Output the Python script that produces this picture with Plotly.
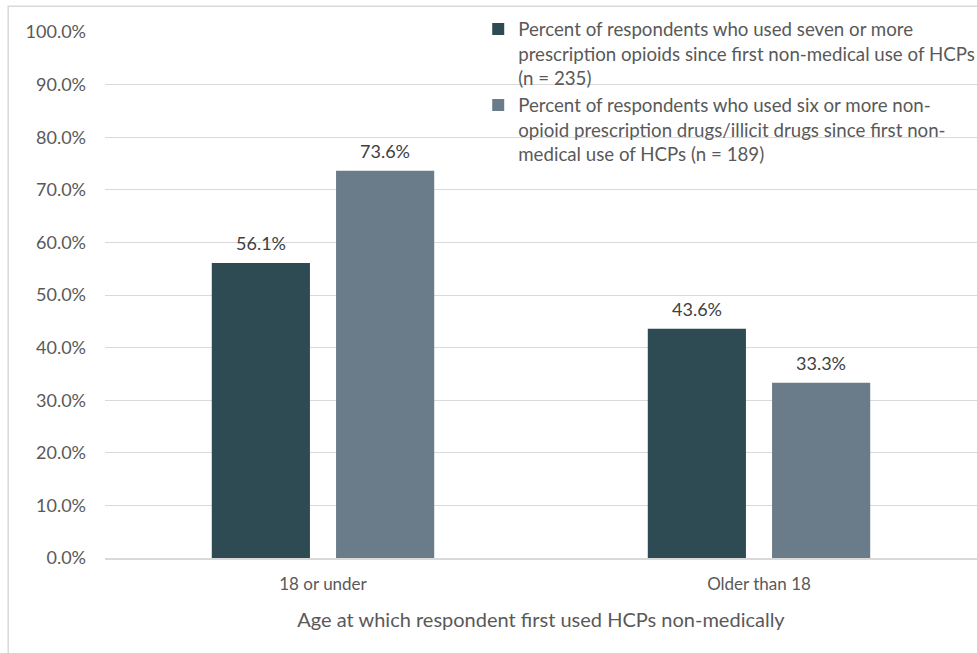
import plotly.graph_objects as go

# Age groups and the share of respondents in each group
categories = ["18 or under", "Older than 18"]
opioid_pct = [56.1, 43.6]
nonopioid_pct = [73.6, 33.3]

series_names = [
    "Percent of respondents who used seven or more<br>prescription opioids since first non-medical use of HCPs<br>(n = 235)",
    "Percent of respondents who used six or more non-<br>opioid prescription drugs/illicit drugs since first non-<br>medical use of HCPs (n = 189)",
]
series_colors = ["#2E4A52", "#6A7C89"]

tick_vals = [0, 10, 20, 30, 40, 50, 60, 70, 80, 90, 100]
tick_text = [f"{v:.1f}%" for v in tick_vals]

FONT = "Lato, Open Sans, sans-serif"
TEXT_COLOR = "#595959"
LABEL_COLOR = "#404040"

fig = go.Figure()
for name, vals, color in zip(series_names, [opioid_pct, nonopioid_pct], series_colors):
    fig.add_trace(go.Bar(
        x=categories,
        y=vals,
        name=name,
        marker=dict(color=color, line=dict(width=0)),
    ))

# value labels above each bar (offset to the bar's slot inside its group)
annotations = []
for offset, vals in zip([-62, 62], [opioid_pct, nonopioid_pct]):
    for cat, v in zip(categories, vals):
        annotations.append(dict(
            x=cat, y=v, xref="x", yref="y",
            text=f"{v:.1f}%", showarrow=False,
            xshift=offset, yshift=20, yanchor="middle",
            font=dict(family=FONT, size=18, color=LABEL_COLOR),
        ))

fig.update_layout(
    width=977,
    height=653,
    margin=dict(l=105, r=0, t=32, b=95, autoexpand=False),
    paper_bgcolor="white",
    plot_bgcolor="white",
    barmode="group",
    bargap=0.43,
    bargroupgap=0.21,
    font=dict(family=FONT, size=18, color=TEXT_COLOR),
    showlegend=True,
    legend=dict(
        x=0.428, y=1.041, xanchor="left", yanchor="top",
        valign="top",
        bgcolor="rgba(0,0,0,0)",
        font=dict(family=FONT, size=18.7, color=TEXT_COLOR),
        itemwidth=30,
        tracegroupgap=2,
        traceorder="normal",
    ),
    annotations=annotations,
    xaxis=dict(
        showgrid=False,
        showline=True,
        linecolor="#d9d9d9",
        linewidth=1.5,
        ticks="",
        ticklabelstandoff=10,
        tickfont=dict(family=FONT, size=17, color=TEXT_COLOR),
        title=dict(text="Age at which respondent first used HCPs non-medically",
                   font=dict(family=FONT, size=20, color=TEXT_COLOR), standoff=20),
    ),
    yaxis=dict(
        range=[0, 100],
        tickvals=tick_vals,
        ticktext=tick_text,
        showgrid=True,
        gridcolor="#d9d9d9",
        gridwidth=1,
        zeroline=False,
        ticks="",
        ticklabelstandoff=18,
        tickfont=dict(family=FONT, size=18, color=TEXT_COLOR),
    ),
    shapes=[dict(
        type="rect", xref="paper", yref="paper",
        x0=-0.111, x1=1.05, y0=-0.4, y1=1.049,
        line=dict(color="#d9d9d9", width=1.5),
        fillcolor="rgba(0,0,0,0)", layer="below",
    )],
)

fig.write_html("out.html")
